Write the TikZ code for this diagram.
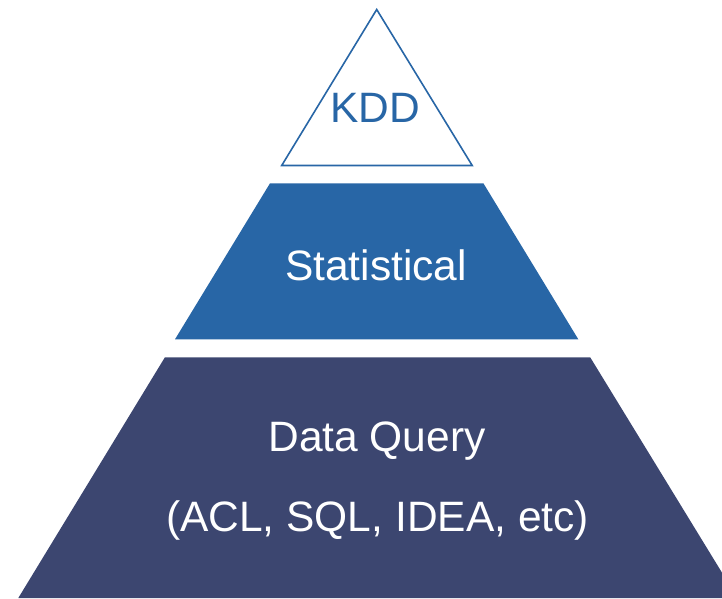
\documentclass[tikz,border=0pt]{standalone}
\usepackage{fontspec}
\setmainfont{Liberation Sans}
\definecolor{midblue}{RGB}{40,102,166}
\definecolor{darknavy}{RGB}{60,70,112}
\begin{document}
\begin{tikzpicture}[x=1pt,y=-1pt,
  lbl/.style={anchor=base,inner sep=0pt,font=\fontsize{42.5}{42.5}\selectfont}]
\useasboundingbox (0,0) rectangle (722,598);
\clip (0,0) rectangle (722,598);
% top triangle
\draw[midblue,line width=1.6pt,line join=miter,fill=white]
  (376.7,9.5) -- (472.2,165.5) -- (281.7,165.5) -- cycle;
% middle trapezoid
\fill[midblue] (270,183.3) -- (483.4,183.3) -- (578.3,339.3) -- (175,339.3) -- cycle;
% bottom trapezoid
\fill[darknavy] (164.9,357.3) -- (590.2,357.3) -- (737.5,598) -- (18.3,598) -- cycle;
% labels
\node[lbl,text=midblue] (kdd) at (375,122.7) {KDD};
\node[lbl,text=white] (stat) at (376,280) {Statistical};
\node[lbl,text=white] (dq) at (377,451.7) {Data Query};
\node[lbl,text=white] (tools) at (377.5,531) {(ACL, SQL, IDEA, etc)};
\end{tikzpicture}
\end{document}
